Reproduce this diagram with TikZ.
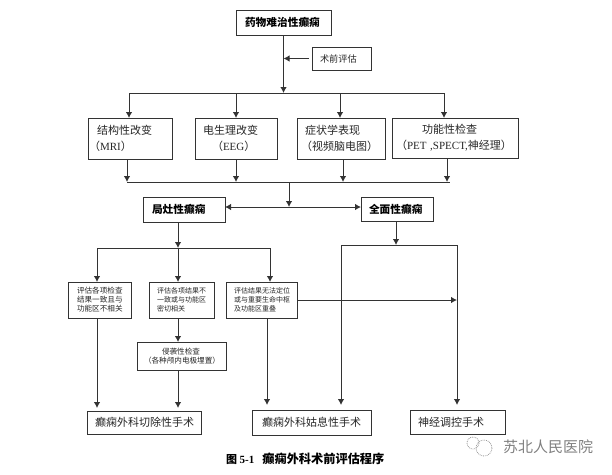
\documentclass[tikz,border=0pt]{standalone}
\usepackage{fontspec}
\setmainfont{Noto Sans CJK SC}
\newfontfamily\latinfont{Liberation Serif}
\usetikzlibrary{arrows.meta}
\tikzset{
	flowbox/.style = {draw = black!80, line width = 1pt, rectangle, inner xsep = 0pt, inner ysep = 0pt, outer sep = 0pt, align = left, text = black!85},
	bigfont/.style = {font = \fontsize{11}{16}\selectfont},
	midfont/.style = {font = \fontsize{7.6}{9}\selectfont},
	smallfont/.style = {font = \fontsize{7}{9}\selectfont},
	boldfont/.style = {font = \fontsize{10.7}{14}\selectfont\bfseries, text = black},
	flowline/.style = {line width = 1pt, draw = black!80}
}
\begin{document}
\begin{tikzpicture}[x = 1pt, y = -1pt, >={Latex[length=6pt,width=6.5pt]}]
		\useasboundingbox (0,0) rectangle (612,474);

		\node [flowbox, boldfont, text width = 95pt, minimum height = 25pt] (drugres) at (283.5, 22.5) {\hspace*{9pt}药物难治性癫痫};
		\node [flowbox, font = \fontsize{9.2}{12}\selectfont, text width = 59pt, minimum height = 23pt] (preop) at (341.5, 58.5) {\hspace*{8pt}术前评估};

		\node [flowbox, bigfont, text width = 84pt, minimum height = 41pt] (mri) at (130, 138.5) {\hspace*{9pt}结构性改变\\\hspace*{1pt}（{\latinfont MRI}）};
		\node [flowbox, bigfont, text width = 82pt, minimum height = 41pt] (eeg) at (236, 138.5) {\hspace*{8pt}电生理改变\\\hspace*{17pt}（{\latinfont EEG}）};
		\node [flowbox, bigfont, text width = 88pt, minimum height = 41pt] (video) at (341, 138.5) {\hspace*{8pt}症状学表现\\\hspace*{4pt}（视频脑电图）};
		\node [flowbox, bigfont, text width = 126pt, minimum height = 40pt] (func) at (455, 138) {\hspace*{30pt}功能性检查\\\hspace*{4pt}（{\latinfont PET ,SPECT,}神经理）};

		\node [flowbox, boldfont, text width = 82pt, minimum height = 25pt] (focal) at (184, 209.5) {\hspace*{9pt}局灶性癫痫};
		\node [flowbox, boldfont, text width = 72pt, minimum height = 24pt] (general) at (397, 209) {\hspace*{8pt}全面性癫痫};

		\node [flowbox, midfont, text width = 63pt, minimum height = 36pt] (evala) at (99.5, 300) {\hspace*{9pt}评估各项检查\\\hspace*{9pt}结果一致且与\\\hspace*{9pt}功能区不相关};
		\node [flowbox, smallfont, text width = 65pt, minimum height = 36pt] (evalb) at (181.5, 300) {\hspace*{8pt}评估各项结果不\\\hspace*{8pt}一致或与功能区\\\hspace*{8pt}密切相关};
		\node [flowbox, smallfont, text width = 71pt, minimum height = 36pt] (evalc) at (261.5, 300) {\hspace*{8pt}评估结果无法定位\\\hspace*{8pt}或与重要生命中枢\\\hspace*{8pt}及功能区重叠};
		\node [flowbox, midfont, text width = 89pt, minimum height = 28pt] (invasive) at (181.5, 356) {\hspace*{25pt}侵袭性检查\\\hspace*{7pt}（各种颅内电极埋置）};

		\node [flowbox, bigfont, text width = 114pt, minimum height = 23pt] (resect) at (144, 422.5) {\hspace*{8pt}癫痫外科切除性手术};
		\node [flowbox, bigfont, text width = 119pt, minimum height = 25pt] (pallia) at (311.5, 422.5) {\hspace*{10pt}癫痫外科姑息性手术};
		\node [flowbox, bigfont, text width = 95pt, minimum height = 24pt] (neuro) at (457.5, 422) {\hspace*{8pt}神经调控手术};

		\coordinate (split) at (283.5, 93);
		\coordinate (barmri) at (129, 93);
		\coordinate (bareeg) at (236, 93);
		\coordinate (barvideo) at (340, 93);
		\coordinate (barfunc) at (444, 93);
		\draw [->, flowline] (drugres) -- (split);
		\draw [->, flowline] (preop.west) ++(-3,0) -- (split |- preop);
		\draw [flowline] (barmri) -- (barfunc);
		\draw [->, flowline] (barmri) -- (barmri |- mri.north);
		\draw [->, flowline] (bareeg) -- (bareeg |- eeg.north);
		\draw [->, flowline] (barvideo) -- (barvideo |- video.north);
		\draw [->, flowline] (barfunc) -- (barfunc |- func.north);

		\coordinate (joinmri) at (127, 182);
		\coordinate (joineeg) at (236, 182);
		\coordinate (joinvideo) at (343, 182);
		\coordinate (joinfunc) at (447, 182);
		\coordinate (joinend) at (450, 182);
		\coordinate (joinmid) at (289, 182);
		\coordinate (fork) at (289, 207);
		\draw [->, flowline] (joinmri |- mri.south) -- (joinmri);
		\draw [->, flowline] (joineeg |- eeg.south) -- (joineeg);
		\draw [->, flowline] (joinvideo |- video.south) -- (joinvideo);
		\draw [->, flowline] (joinfunc |- func.south) -- (joinfunc);
		\draw [flowline] (joinmri) -- (joinend);
		\draw [->, flowline] (joinmid) -- (fork);
		\draw [<->, flowline] (focal.east |- fork) -- (general.west |- fork);

		\coordinate (focalsplit) at (178, 248);
		\coordinate (barevala) at (97, 248);
		\coordinate (barevalc) at (270, 248);
		\draw [->, flowline] (focalsplit |- focal.south) -- (focalsplit);
		\draw [flowline] (barevala) -- (barevalc);
		\draw [->, flowline] (barevala) -- (barevala |- evala.north);
		\draw [->, flowline] (focalsplit) -- (focalsplit |- evalb.north);
		\draw [->, flowline] (barevalc) -- (barevalc |- evalc.north);
		\draw [->, flowline] (focalsplit |- evalb.south) -- (focalsplit |- invasive.north);

		\coordinate (enda) at (97, 408);
		\coordinate (endb) at (178, 408);
		\coordinate (endc) at (267, 405);
		\draw [->, flowline] (enda |- evala.south) -- (enda);
		\draw [->, flowline] (endb |- invasive.south) -- (endb);
		\draw [->, flowline] (endc |- evalc.south) -- (endc);

		\coordinate (gensplit) at (396, 245);
		\coordinate (barpallia) at (341, 245);
		\coordinate (barneuro) at (457, 245);
		\coordinate (endpallia) at (341, 405);
		\coordinate (endneuro) at (457, 405);
		\draw [->, flowline] (gensplit |- general.south) -- (gensplit);
		\draw [flowline] (barpallia) -- (barneuro);
		\draw [->, flowline] (barpallia) -- (endpallia);
		\draw [->, flowline] (barneuro) -- (endneuro);
		\draw [->, flowline] (evalc.east) -- (barneuro |- evalc.east);

		\node [anchor = west, inner sep = 0pt, font = \fontsize{11}{14}\selectfont\bfseries] (caption) at (226, 459) {图 {\latinfont 5-1}\hspace{8pt}\fontsize{12.2}{14}\selectfont 癫痫外科术前评估程序};

		\node [anchor = west, font = \fontsize{15}{18}\selectfont, text = black!50, inner sep = 0pt] (mark) at (503, 447) {苏北人民医院};
		\draw [black!40, densely dotted, thick] (473, 443) circle (6);
		\draw [black!40, densely dotted, thick] (484, 448) circle (8);
		\end{tikzpicture}
\end{document}
